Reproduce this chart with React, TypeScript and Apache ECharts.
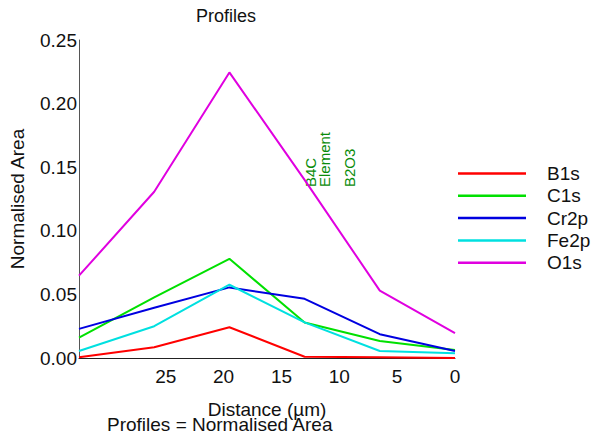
import React, { useEffect, useRef } from "react";
import * as echarts from "echarts";

const distances = [32.5, 26, 19.5, 13, 6.5, 0];
const seriesNames = ["B1s", "C1s", "Cr2p", "Fe2p", "O1s"];
const b1s = [0.0005, 0.0084, 0.0242, 0.001, 0.0005, 0.0];
const c1s = [0.016, 0.0476, 0.078, 0.0279, 0.0134, 0.0063];
const cr2p = [0.0229, 0.0395, 0.0555, 0.0465, 0.0187, 0.0055];
const fe2p = [0.0055, 0.025, 0.0576, 0.028, 0.0055, 0.0037];
const o1s = [0.0647, 0.1307, 0.2245, 0.14, 0.053, 0.0195];
const seriesColors = ["#ff0000", "#00e000", "#0000e0", "#00e0e0", "#e000e0"];
const xTickLabels = [0, 5, 10, 15, 20, 25];
const annotations = ["B4C", "Element", "B2O3"];

const FONT = "'Liberation Sans', Arial, sans-serif";

export default function App() {
  const ref = useRef<HTMLDivElement>(null);
  useEffect(() => {
    if (!ref.current) return;
    const chart = echarts.init(ref.current, undefined, { renderer: "svg" });
    const values = [b1s, c1s, cr2p, fe2p, o1s];
    const annX = [318, 332, 357];
    chart.setOption({
      animation: false,
      backgroundColor: "#ffffff",
      textStyle: { fontFamily: FONT },
      grid: { left: 79, right: 137, top: 40, bottom: 80, containLabel: false },
      legend: {
        orient: "vertical",
        left: 453,
        top: 159,
        data: seriesNames,
        icon: "rect",
        itemWidth: 68,
        itemHeight: 2.5,
        itemGap: 3.3,
        textStyle: {
          fontFamily: FONT,
          fontSize: 19,
          color: "#111",
          lineHeight: 19,
          padding: [0, 0, 0, 16],
        },
      },
      xAxis: {
        type: "value",
        min: 0,
        max: 32.5,
        interval: 5,
        inverse: true,
        name: "Distance (µm)",
        nameLocation: "middle",
        nameGap: 42,
        nameTextStyle: { fontFamily: FONT, fontSize: 19, color: "#111" },
        axisLine: { show: true, onZero: false, lineStyle: { color: "#222", width: 1 } },
        axisTick: { show: false },
        splitLine: { show: false },
        axisLabel: {
          fontFamily: FONT,
          fontSize: 19,
          color: "#111",
          margin: 9,
          showMaxLabel: false,
          formatter: (v: number) => (xTickLabels.indexOf(v) >= 0 ? String(v) : ""),
        },
      },
      yAxis: {
        type: "value",
        min: 0,
        max: 0.25,
        interval: 0.05,
        position: "left",
        name: "Normalised Area",
        nameLocation: "middle",
        nameGap: 52,
        nameTextStyle: { fontFamily: FONT, fontSize: 19, color: "#111" },
        axisLine: { show: true, onZero: false, lineStyle: { color: "#555", width: 1 } },
        axisTick: { show: false },
        splitLine: { show: false },
        axisLabel: {
          fontFamily: FONT,
          fontSize: 19,
          color: "#111",
          margin: 2,
          formatter: (v: number) => v.toFixed(2),
        },
      },
      series: seriesNames.map((name, i) => ({
        name,
        type: "line",
        data: distances.map((d, j) => [d, values[i][j]]),
        symbol: "none",
        lineStyle: { color: seriesColors[i], width: 2 },
        itemStyle: { color: seriesColors[i] },
        z: 2 + (i === 0 ? 5 : 0),
      })),
      graphic: [
        {
          type: "text",
          style: {
            x: 226,
            y: 16,
            text: "Profiles",
            fontFamily: FONT,
            fontSize: 18,
            fill: "#111",
            textAlign: "center",
            textVerticalAlign: "middle",
          },
        },
        {
          type: "text",
          style: {
            x: 107,
            y: 424,
            text: "Profiles = Normalised Area",
            fontFamily: FONT,
            fontSize: 19,
            fill: "#111",
            textAlign: "left",
            textVerticalAlign: "middle",
          },
        },
        ...annotations.map((t, i) => ({
          type: "text",
          x: annX[i],
          y: 187,
          rotation: Math.PI / 2,
          style: {
            x: 0,
            y: 0,
            text: t,
            fontFamily: FONT,
            fontSize: 15,
            fill: "#0a8c0a",
            textAlign: "left",
            textVerticalAlign: "bottom",
          },
        })),
      ],
    });
    return () => chart.dispose();
  }, []);
  return <div ref={ref} style={{ width: 592, height: 438, position: "absolute", left: 0, top: 0 }} />;
}
